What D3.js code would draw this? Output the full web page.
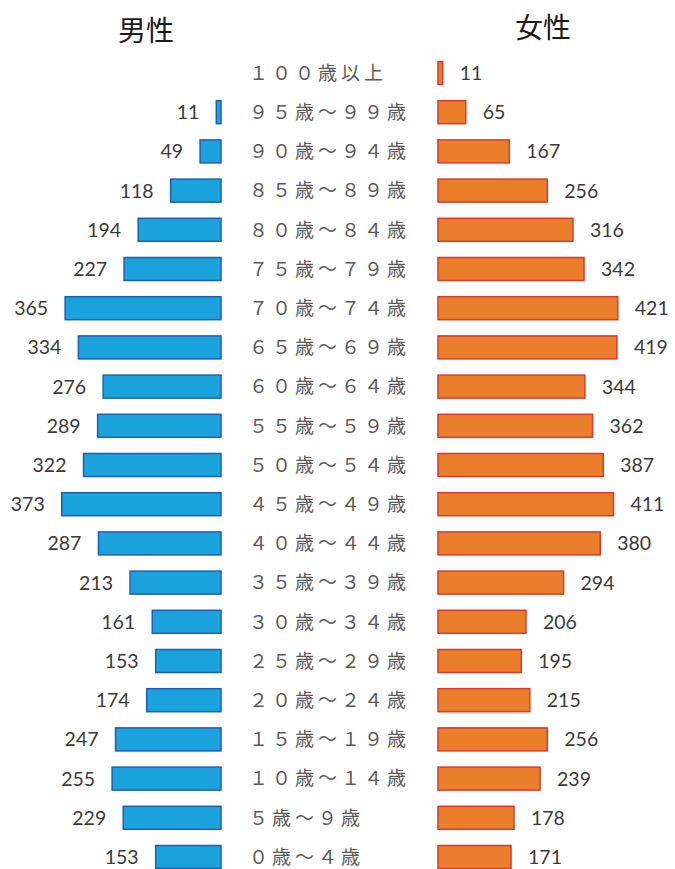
<!DOCTYPE html>
<html>
<head>
<meta charset="utf-8">
<script src="https://cdn.jsdelivr.net/npm/d3@7/dist/d3.min.js"></script>
<style>
  html, body { margin: 0; padding: 0; background: #ffffff; }
  svg { display: block; }
</style>
</head>
<body>
<svg id="chart" width="675" height="869"></svg>
<script>
const ageGroups = ["１００歳以上","９５歳～９９歳","９０歳～９４歳","８５歳～８９歳","８０歳～８４歳","７５歳～７９歳","７０歳～７４歳","６５歳～６９歳","６０歳～６４歳","５５歳～５９歳","５０歳～５４歳","４５歳～４９歳","４０歳～４４歳","３５歳～３９歳","３０歳～３４歳","２５歳～２９歳","２０歳～２４歳","１５歳～１９歳","１０歳～１４歳","５歳～９歳","０歳～４歳"];
const male   = [0, 11, 49, 118, 194, 227, 365, 334, 276, 289, 322, 373, 287, 213, 161, 153, 174, 247, 255, 229, 153];
const female = [11, 65, 167, 256, 316, 342, 421, 419, 344, 362, 387, 411, 380, 294, 206, 195, 215, 256, 239, 178, 171];
const titles = ["男性", "女性"];

const svg = d3.select("#chart");

const y = d3.scalePoint().domain(ageGroups).range([73, 857]);
const barH = 23;
const xMale = d3.scaleLinear().domain([0, 400]).range([221, 221 - 400 * 0.427]);
const xFemale = d3.scaleLinear().domain([0, 400]).range([438, 438 + 400 * 0.427]);

const rows = ageGroups.map((a, i) => ({ age: a, m: male[i], f: female[i] }));

// titles
svg.append("text").attr("x", 146).attr("y", 41).attr("text-anchor", "middle")
  .attr("font-family", "'Noto Sans CJK JP', sans-serif").attr("font-size", 28)
  .attr("fill", "#1a1a1a").text(titles[0]);
svg.append("text").attr("x", 543).attr("y", 38).attr("text-anchor", "middle")
  .attr("font-family", "'Noto Sans CJK JP', sans-serif").attr("font-size", 28)
  .attr("fill", "#1a1a1a").text(titles[1]);

// male bars
const mRows = rows.filter(d => d.m > 0);
svg.append("g").selectAll("rect").data(mRows).join("rect")
  .attr("x", d => xMale(d.m))
  .attr("y", d => y(d.age) - barH / 2)
  .attr("width", d => xMale(0) - xMale(d.m))
  .attr("height", barH)
  .attr("fill", "#1ba3de")
  .attr("stroke", "#1f5fae")
  .attr("stroke-width", 1.5);

svg.append("g").selectAll("text").data(mRows).join("text")
  .attr("x", d => xMale(d.m) - 17)
  .attr("y", d => y(d.age))
  .attr("dy", "0.36em")
  .attr("text-anchor", "end")
  .attr("font-family", "Lato, sans-serif")
  .attr("font-size", 19.5)
  .attr("fill", "#3a3a3a")
  .text(d => d.m);

// female bars
svg.append("g").selectAll("rect").data(rows).join("rect")
  .attr("x", xFemale(0))
  .attr("y", d => y(d.age) - barH / 2)
  .attr("width", d => xFemale(d.f) - xFemale(0))
  .attr("height", barH)
  .attr("fill", "#ea7e2b")
  .attr("stroke", "#d93a2c")
  .attr("stroke-width", 1.5);

svg.append("g").selectAll("text").data(rows).join("text")
  .attr("x", d => xFemale(d.f) + 17)
  .attr("y", d => y(d.age))
  .attr("dy", "0.36em")
  .attr("text-anchor", "start")
  .attr("font-family", "Lato, sans-serif")
  .attr("font-size", 19.5)
  .attr("fill", "#3a3a3a")
  .text(d => d.f);

// age labels
svg.append("g").selectAll("text").data(rows).join("text")
  .attr("x", 249)
  .attr("y", d => y(d.age))
  .attr("dy", "0.36em")
  .attr("font-family", "'Noto Sans CJK JP', sans-serif")
  .attr("font-weight", 400)
  .attr("font-size", 19)
  .attr("letter-spacing", 4)
  .attr("fill", "#5a5a5a")
  .text(d => d.age);
</script>
</body>
</html>
